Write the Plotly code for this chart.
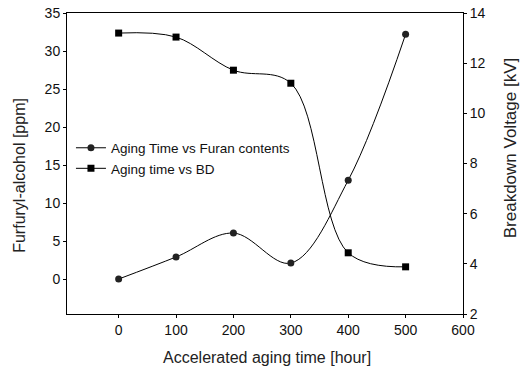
import plotly.graph_objects as go

hours = [0, 100, 200, 300, 400, 500]
furan_ppm = [0.0, 2.9, 6.05, 2.1, 13.0, 32.2]
bd_kv = [13.2, 13.04, 11.72, 11.2, 4.44, 3.88]
x_ticks = [0, 100, 200, 300, 400, 500, 600]
y1_ticks = [0, 5, 10, 15, 20, 25, 30, 35]
y2_ticks = [2, 4, 6, 8, 10, 12, 14]

font = "Arial, Liberation Sans, sans-serif"

fig = go.Figure()
fig.add_trace(go.Scatter(
    x=hours, y=furan_ppm, name="Aging Time vs Furan contents",
    mode="lines+markers", line=dict(color="black", width=1, shape="spline", smoothing=1),
    marker=dict(symbol="circle", size=7, color="#222"), yaxis="y"))
fig.add_trace(go.Scatter(
    x=hours, y=bd_kv, name="Aging time vs BD",
    mode="lines+markers", line=dict(color="black", width=1, shape="spline", smoothing=1),
    marker=dict(symbol="square", size=7, color="black"), yaxis="y2"))

axis_common = dict(showline=True, linecolor="black", linewidth=1, ticks="outside",
                   ticklen=3, tickcolor="black", showgrid=False, zeroline=False,
                   automargin=False,
                   tickfont=dict(family=font, size=14, color="#111"))

fig.update_layout(
    width=530, height=376,
    margin=dict(l=67, r=67, t=13, b=62),
    paper_bgcolor="white", plot_bgcolor="white",
    font=dict(family=font, size=13, color="#222"),
    xaxis=dict(range=[-90, 600], tickvals=x_ticks, mirror=True, **axis_common),
    yaxis=dict(range=[-4.6, 35], tickvals=y1_ticks, **axis_common),
    yaxis2=dict(range=[2, 14], tickvals=y2_ticks, overlaying="y", side="right",
                **axis_common),
    legend=dict(x=0.01, y=0.603, xanchor="left", yanchor="top", bgcolor="rgba(0,0,0,0)",
                font=dict(family=font, size=13.5, color="#111"), tracegroupgap=0,
                itemwidth=30),
    annotations=[
        dict(text="Accelerated aging time [hour]", xref="paper", yref="paper",
             x=0.505, y=-0.143, xanchor="center", yanchor="middle", showarrow=False,
             font=dict(family=font, size=16, color="#222")),
        dict(text="Furfuryl-alcohol [ppm]", xref="paper", yref="paper",
             x=-0.119, y=0.462, xanchor="center", yanchor="middle", showarrow=False,
             textangle=-90, font=dict(family=font, size=16, color="#222")),
        dict(text="Breakdown Voltage [kV]", xref="paper", yref="paper",
             x=1.119, y=0.551, xanchor="center", yanchor="middle", showarrow=False,
             textangle=-90, font=dict(family=font, size=17, color="#222")),
    ],
)

fig.write_html("out.html", config={"displayModeBar": False},
               post_script="document.body.style.margin='0';")
